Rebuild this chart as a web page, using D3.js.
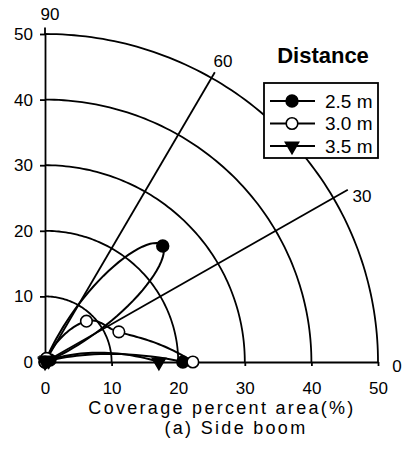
<!DOCTYPE html>
<html>
<head>
<meta charset="utf-8">
<script src="https://cdn.jsdelivr.net/npm/d3@7"></script>
<style>
  body { margin: 0; background: #fff; }
  text { font-family: "Liberation Sans", Arial, sans-serif; fill: #000; }
</style>
</head>
<body>
<div id="chart"></div>
<script>
// measured directions (degrees) and coverage (%) per nozzle distance
const angles = [0, 22.5, 45, 67.5, 90]
const dist25 = [20.7, 0.8, 25.0, 0.5, 0]
const dist30 = [22.2, 12.0, 8.8, 0.6, 0]
const dist35 = [17.1, 0.6, 0.4, 0.2, 0]
const seriesNames = ["2.5 m", "3.0 m", "3.5 m"]
const rings = [10, 20, 30, 40, 50]
const spokes = [30, 60]
const radialTicks = [0, 10, 20, 30, 40, 50]

const width = 408, height = 452

const svg = d3.select("#chart").append("svg")
    .attr("width", width)
    .attr("height", height)

// cartesian scales of the quarter plane (origin bottom left)
const x = d3.scaleLinear().domain([0, 50]).range([45, 378])
const y = d3.scaleLinear().domain([0, 50]).range([362, 34])

function toXY(deg, r) {
    const a = deg * Math.PI / 180
    return [x(r * Math.cos(a)), y(r * Math.sin(a))]
}

const line = d3.line()

// rings
svg.selectAll("path.ring")
    .data(rings)
    .enter().append("path")
    .attr("class", "ring")
    .attr("d", function (r) { return line(d3.range(0, 90.01, 1).map(a => toXY(a, r))) })
    .style("fill", "none")
    .style("stroke", "#000")
    .style("stroke-width", 1.8)

// spokes at 30 and 60
svg.selectAll("line.spoke")
    .data(spokes)
    .enter().append("line")
    .attr("class", "spoke")
    .attr("x1", x(0)).attr("y1", y(0))
    .attr("x2", function (a) { return toXY(a, a == 30 ? 52.5 : 51)[0] })
    .attr("y2", function (a) { return toXY(a, a == 30 ? 52.5 : 51)[1] })
    .style("stroke", "#000")
    .style("stroke-width", 1.8)

// axes
const xAxis = d3.axisBottom(x).tickValues(radialTicks).tickSize(4).tickSizeOuter(0).tickPadding(16)
const yAxis = d3.axisLeft(y).tickValues(radialTicks).tickSize(5).tickSizeOuter(0).tickPadding(7)

svg.append("g")
    .attr("transform", "translate(0," + y(0) + ")")
    .call(xAxis)
    .call(g => g.selectAll("path,line").style("stroke", "#000").style("stroke-width", 1.8))
    .call(g => g.selectAll("text").style("font-size", "17px").style("font-family", "Liberation Sans, Arial, sans-serif"))

svg.append("g")
    .attr("transform", "translate(" + x(0) + ",0)")
    .call(yAxis)
    .call(g => g.selectAll("path,line").style("stroke", "#000").style("stroke-width", 1.8))
    .call(g => g.selectAll("text").style("font-size", "17px").style("font-family", "Liberation Sans, Arial, sans-serif"))

// axis extension past 50
svg.append("line")
    .attr("x1", x(0)).attr("y1", y(50)).attr("x2", x(0)).attr("y2", y(51))
    .style("stroke", "#000").style("stroke-width", 1.8)

// angle labels
const angleLabels = [
    { t: "90", x: 50, y: 20 },
    { t: "60", x: 223, y: 67 },
    { t: "30", x: 362, y: 202 },
    { t: "0", x: 397, y: 372 }
]
svg.selectAll("text.angle")
    .data(angleLabels)
    .enter().append("text")
    .attr("class", "angle")
    .attr("x", d => d.x).attr("y", d => d.y)
    .attr("text-anchor", "middle")
    .style("font-size", "17px")
    .text(d => d.t)

// smooth r(theta) in polar space, sampled through a curve context
function polarPoints(values) {
    const pts = []
    let ca = 0, cr = 0
    const ctx = {
        moveTo(a, r) { ca = a; cr = r; pts.push([a, r]) },
        lineTo(a, r) { ca = a; cr = r; pts.push([a, r]) },
        bezierCurveTo(a1, r1, a2, r2, a, r) {
            for (let i = 1; i <= 30; i++) {
                const t = i / 30, u = 1 - t
                pts.push([
                    u*u*u*ca + 3*u*u*t*a1 + 3*u*t*t*a2 + t*t*t*a,
                    u*u*u*cr + 3*u*u*t*r1 + 3*u*t*t*r2 + t*t*t*r
                ])
            }
            ca = a; cr = r
        },
        closePath() {}
    }
    d3.line().curve(d3.curveNatural).context(ctx)(values.map((r, i) => [angles[i], r]))
    return pts.map(p => toXY(p[0], Math.max(0, p[1])))
}

const allSeries = [dist25, dist30, dist35]
const symbols = [d3.symbolCircle, d3.symbolCircle, d3.symbolTriangle]
const fills = ["#000", "#fff", "#000"]
const sizes = [110, 105, 75]

allSeries.forEach(function (vals) {
    svg.append("path")
        .attr("d", line(polarPoints(vals)))
        .style("fill", "none")
        .style("stroke", "#000")
        .style("stroke-width", 2)
})

allSeries.forEach(function (vals, k) {
    svg.selectAll(".pt" + k)
        .data(vals)
        .enter().append("path")
        .attr("class", "pt" + k)
        .attr("d", d3.symbol().type(symbols[k]).size(sizes[k]))
        .attr("transform", function (r, i) {
            const p = toXY(angles[i], r)
            return "translate(" + p[0] + "," + p[1] + ")" + (k == 2 ? " rotate(180)" : "")
        })
        .style("fill", fills[k])
        .style("stroke", "#000")
        .style("stroke-width", 1.6)
})

// axis titles
svg.append("text")
    .attr("x", 222).attr("y", 414)
    .attr("text-anchor", "middle")
    .style("font-size", "18px")
    .style("letter-spacing", "2.3px")
    .text("Coverage percent area(%)")
svg.append("text")
    .attr("x", 236).attr("y", 434)
    .attr("text-anchor", "middle")
    .style("font-size", "18px")
    .style("letter-spacing", "2.3px")
    .text("(a) Side boom")

// legend
svg.append("text")
    .attr("x", 323).attr("y", 63)
    .attr("text-anchor", "middle")
    .style("font-size", "22px")
    .style("font-weight", "bold")
    .text("Distance")

svg.append("rect")
    .attr("x", 264).attr("y", 83)
    .attr("width", 114).attr("height", 75)
    .style("fill", "#fff")
    .style("stroke", "#000")
    .style("stroke-width", 1.8)

const legend = svg.selectAll("g.legend")
    .data(seriesNames)
    .enter().append("g")
    .attr("class", "legend")
    .attr("transform", (d, i) => "translate(0," + (101 + i * 22.5) + ")")

legend.append("line")
    .attr("x1", 270).attr("x2", 315)
    .style("stroke", "#000").style("stroke-width", 2)
legend.append("path")
    .attr("d", (d, i) => d3.symbol().type(symbols[i]).size(sizes[i])())
    .attr("transform", (d, i) => "translate(292,0)" + (i == 2 ? " rotate(180)" : ""))
    .style("fill", (d, i) => fills[i])
    .style("stroke", "#000")
    .style("stroke-width", 1.6)
legend.append("text")
    .attr("x", 325).attr("dy", "0.35em")
    .style("font-size", "19px")
    .text(d => d)
</script>
</body>
</html>
